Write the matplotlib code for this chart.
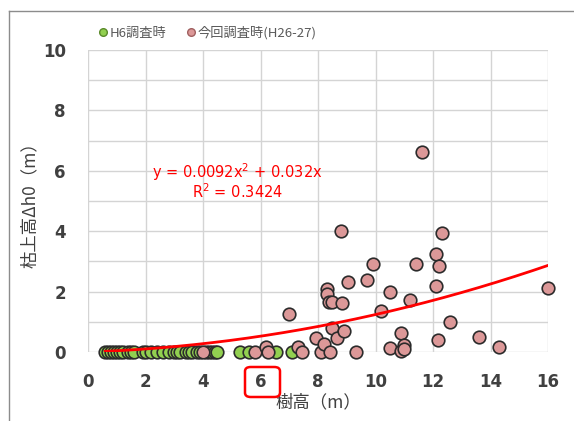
import numpy as np
import matplotlib.pyplot as plt
from matplotlib.patches import FancyBboxPatch
from matplotlib.lines import Line2D

plt.rcParams['font.family'] = ['Noto Sans CJK JP', 'DejaVu Sans']

# H6調査時 (すべて 0)
h6_x = [0.6, 0.7, 0.8, 0.9, 1.0, 1.1, 1.2, 1.4, 1.5, 1.6, 1.9, 2.0, 2.2, 2.4,
        2.6, 2.8, 3.0, 3.1, 3.2, 3.4, 3.5, 3.6, 3.8, 3.9, 4.1, 4.2, 4.3, 4.4,
        4.5, 5.3, 5.6, 6.55, 7.1]
h6_y = [0.0] * len(h6_x)

# 今回調査時(H26-27)
now_x = [4.0, 5.8, 6.2, 6.25, 7.0, 7.3, 7.43, 7.92, 8.09, 8.2, 8.3, 8.3, 8.38,
         8.42, 8.48, 8.5, 8.65, 8.82, 8.8, 8.9, 9.03, 9.31, 9.72, 9.92, 10.19,
         10.5, 10.5, 10.9, 10.9, 11.0, 11.0, 11.2, 11.4, 11.6, 12.1, 12.1,
         12.19, 12.22, 12.3, 12.6, 13.6, 14.3, 16.0]
now_y = [0.0, 0.0, 0.17, 0.0, 1.26, 0.17, 0.0, 0.45, 0.0, 0.28, 2.1, 1.92, 1.67,
         0.0, 1.65, 0.78, 0.45, 1.62, 4.0, 0.7, 2.31, 0.0, 2.38, 2.91, 1.37,
         1.98, 0.14, 0.62, 0.03, 0.23, 0.1, 1.72, 2.91, 6.63, 3.23, 2.2,
         0.4, 2.85, 3.95, 0.98, 0.51, 0.16, 2.13]

# 近似曲線 y = 0.0092x^2 + 0.032x
a2, a1 = 0.0092, 0.032

fig = plt.figure(figsize=(5.74, 4.21), dpi=100)
ax = fig.add_axes([88 / 574, 69 / 421, 460 / 574, 302 / 421])

ax.scatter(h6_x, h6_y, s=82, c='#92d050', edgecolors='#2b2b2b', linewidths=1.2,
           zorder=3, clip_on=False)
ax.scatter(now_x, now_y, s=82, c='#dc9898', edgecolors='#2b2b2b', linewidths=1.2,
           zorder=4, clip_on=False)

xs = np.linspace(0.6, 16, 200)
ax.plot(xs, a2 * xs ** 2 + a1 * xs, color='#ff0000', lw=2, zorder=5)

ax.text(5.2, 5.96, 'y = 0.0092x$^2$ + 0.032x', color='#ff0000', fontsize=10.5,
        ha='center', va='center', family='DejaVu Sans')
ax.text(5.2, 5.3, 'R$^2$ = 0.3424', color='#ff0000', fontsize=10.5,
        ha='center', va='center', family='DejaVu Sans')

ax.set_xlim(0, 16)
ax.set_ylim(0, 10)
ax.set_xticks(np.arange(0, 17, 2))
ax.set_yticks(np.arange(0, 11, 2))
ax.set_yticks(np.arange(0, 11, 1), minor=True)
ax.grid(True, which='major', color='#d4d4d4', lw=1)
ax.grid(True, which='minor', axis='y', color='#d4d4d4', lw=1)
ax.set_axisbelow(True)
for s in ax.spines.values():
    s.set_visible(False)
ax.tick_params(which='both', length=0, labelsize=12, colors='#404040')
ax.tick_params(axis='x', pad=15)
ax.tick_params(axis='y', pad=16)
for lab in ax.get_xticklabels() + ax.get_yticklabels():
    lab.set_fontweight('bold')
    lab.set_family('DejaVu Sans')

ax.set_xlabel('樹高（m）', fontsize=12.5, color='#404040', labelpad=2)
ax.set_ylabel('枯上高Δh0（m）', fontsize=12.5, color='#404040', labelpad=3)

# 凡例
handles = [Line2D([], [], ls='', marker='o', ms=5.5, mfc='#92d050', mec='#5a8a2a'),
           Line2D([], [], ls='', marker='o', ms=5.5, mfc='#dc9898', mec='#a06060')]
fig.legend(handles, ['H6調査時', '今回調査時(H26-27)'], loc='center left',
           bbox_to_anchor=(96 / 574, 1 - 33 / 421), ncol=2, frameon=False,
           fontsize=9.5, handletextpad=0.0, handlelength=1.0, borderpad=0,
           borderaxespad=0, columnspacing=1.4, labelcolor='#595959')

# 外枠
fig.add_artist(Line2D([9 / 574, 1], [1 - 11 / 421, 1 - 11 / 421], color='#8c8c8c', lw=1))
fig.add_artist(Line2D([9 / 574, 9 / 574], [0, 1 - 11 / 421], color='#8c8c8c', lw=1))

# 「6」の赤枠
fig.add_artist(FancyBboxPatch((245 / 574, 1 - 397 / 421), 35 / 574, 30 / 421,
                              boxstyle='round,pad=0,rounding_size=0.01',
                              transform=fig.transFigure, fill=False,
                              ec='#ff0000', lw=1.8))

fig.savefig('out.png', dpi=100)
